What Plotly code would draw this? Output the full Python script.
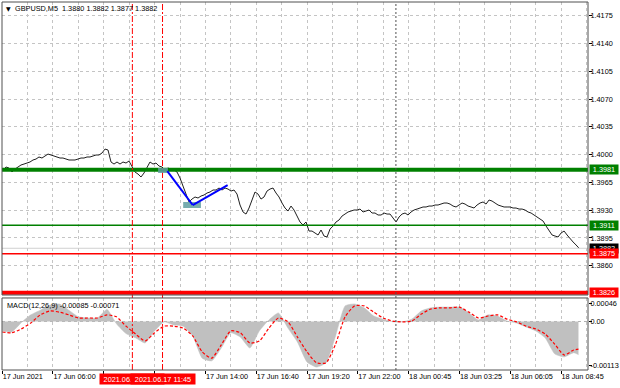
import plotly.graph_objects as go

# ---------------- data ----------------
TITLE_TEXT = "GBPUSD,M5  1.3880 1.3882 1.3877 1.3882"
MACD_TEXT = "MACD(12,26,9) -0.00085 -0.00071"

# time axis: minutes after 17 Jun 03:20 (M5 chart)
PRICE_T0 = 2.5
PRICE_STEP = 9.45
price = [
    1.39793, 1.39844, 1.39831, 1.39781, 1.39818, 1.39844, 1.39869, 1.39881, 1.39894, 1.39907,
    1.39932, 1.39944, 1.39970, 1.39957, 1.39982, 1.40007, 1.39995, 1.39982, 1.39970, 1.39957,
    1.39957, 1.39944, 1.39932, 1.39932, 1.39932, 1.39944, 1.39957, 1.39957, 1.39970, 1.39970,
    1.39982, 1.39995, 1.39995, 1.40020, 1.40070, 1.40058, 1.39907, 1.39881, 1.39907, 1.39881,
    1.39907, 1.39894, 1.39919, 1.39856, 1.39781, 1.39755, 1.39718, 1.39768, 1.39844, 1.39907,
    1.39881, 1.39894, 1.39856, 1.39844, 1.39806, 1.39831, 1.39818, 1.39806, 1.39781, 1.39705,
    1.39604, 1.39491, 1.39403, 1.39440, 1.39466, 1.39453, 1.39478, 1.39491, 1.39516, 1.39529,
    1.39554, 1.39554, 1.39579, 1.39554, 1.39579, 1.39566, 1.39541, 1.39554, 1.39503, 1.39365,
    1.39277, 1.39251, 1.39327, 1.39428, 1.39529, 1.39503, 1.39440, 1.39466, 1.39541, 1.39566,
    1.39579, 1.39516, 1.39466, 1.39390, 1.39327, 1.39289, 1.39352, 1.39302, 1.39226, 1.39151,
    1.39113, 1.39151, 1.39037, 1.39037, 1.39012, 1.38987, 1.39050, 1.38974, 1.38962, 1.39062,
    1.39100, 1.39151, 1.39176, 1.39226, 1.39251, 1.39277, 1.39289, 1.39302, 1.39302, 1.39314,
    1.39277, 1.39289, 1.39302, 1.39264, 1.39264, 1.39239, 1.39239, 1.39264, 1.39251, 1.39251,
    1.39201, 1.39151, 1.39214, 1.39251, 1.39264, 1.39239, 1.39277, 1.39302, 1.39314, 1.39327,
    1.39340, 1.39340, 1.39352, 1.39352, 1.39365, 1.39365, 1.39377, 1.39390, 1.39390, 1.39377,
    1.39352, 1.39340, 1.39365, 1.39390, 1.39377, 1.39352, 1.39340, 1.39327, 1.39365, 1.39390,
    1.39403, 1.39377, 1.39428, 1.39415, 1.39390, 1.39365, 1.39352, 1.39340, 1.39340, 1.39340,
    1.39327, 1.39327, 1.39314, 1.39314, 1.39302, 1.39277, 1.39264, 1.39239, 1.39214, 1.39188,
    1.39163, 1.39100, 1.39050, 1.38987, 1.38974, 1.38962, 1.39012, 1.39037, 1.38987, 1.38936,
    1.38899, 1.38861, 1.38820,
]

MACD_T = list(range(0, 1801, 30)) + [1815]
macd_hist_e5 = [
    -24, -27, -3, 17, 29, 42, 45, 29, 12, 9, 9, 31, -6, -31, -42, -55, -24, -1, -9, -12,
    -37, -94, -101, -68, -29, -40, -68, -24, 4, 22, -17, -53, -104, -117, -106, -37, 40, 45, 35, 14,
    6, -1, -1, 6, 27, 35, 37, 37, 37, 22, 4, 17, 14, 1, -4, -14, -24, -42, -83, -91,
    -80, -85,
]
macd_signal_e5 = [
    -27, -29, -19, -4, 17, 27, 24, 17, 9, 9, 9, 17, 12, -12, -32, -50, -29, -12, -12, -17,
    -37, -78, -94, -60, -24, -29, -55, -50, -17, 9, -1, -40, -78, -106, -106, -58, 12, 40, 40, 24,
    9, 1, -1, 1, 19, 32, 35, 35, 37, 24, 9, 14, 17, 6, -1, -12, -19, -32, -58, -86,
    -73, -71,
]

X_TICKS = [0, 160, 320, 480, 640, 800, 960, 1120, 1280, 1440, 1600, 1760]
X_LABELS = ["17 Jun 2021", "17 Jun 06:00", "", "", "17 Jun 14:00", "17 Jun 16:40",
            "17 Jun 19:20", "17 Jun 22:00", "18 Jun 00:45", "18 Jun 03:25",
            "18 Jun 06:05", "18 Jun 08:45"]
X_MINOR = [80, 240, 400, 560, 720, 880, 1040, 1200, 1360, 1520, 1680, 1840]

PRICE_TICKS = [1.4175, 1.4140, 1.4105, 1.4070, 1.4035, 1.4000, 1.3965, 1.3930, 1.3895, 1.3860]
MACD_TICKS = [0.00046, 0.0, -0.00113]
MACD_TICK_TEXT = ["0.00046", "0.00", "-0.00113"]

LEVELS = [1.3981, 1.3911, 1.3875, 1.3826]
LEVEL_COLORS = ["#008000", "#008000", "#FF0000", "#FF0000"]
LEVEL_WIDTHS = [4, 1.5, 1.5, 4]
BID = 1.3882

VLINE_T = [410, 505]
VLINE_LABELS = ["2021.06.17 10:10", "2021.06.17 11:45"]
DAY_SEP_T = 1240

ARROW_T = [520, 600, 710]
ARROW_P = [1.39793, 1.39365, 1.39617]
BOX_T0 = [491, 570]
BOX_T1 = [522, 626]
BOX_P0 = [1.39768, 1.39327]
BOX_P1 = [1.39831, 1.39403]

# ---------------- figure ----------------
FONT = "Liberation Sans"
FS = 7.3
GRID = "#C4C4C4"
XR = [-0.6, 1845]
PRICE_DOM = [0.2038, 1.0]
MACD_DOM = [0.0, 0.1957]

price_t = [PRICE_T0 + i * PRICE_STEP for i in range(len(price))]
hist = [v * 1e-5 for v in macd_hist_e5]
signal = [v * 1e-5 for v in macd_signal_e5]

fig = go.Figure()
fig.add_trace(go.Scatter(x=price_t, y=price, mode="lines",
                         line=dict(color="#202020", width=1), xaxis="x", yaxis="y",
                         hoverinfo="skip", showlegend=False))
fig.add_trace(go.Scatter(x=MACD_T, y=hist, mode="lines", fill="tozeroy",
                         fillcolor="#C0C0C0",
                         line=dict(color="#C0C0C0", width=0.5, shape="spline", smoothing=0.5),
                         xaxis="x2", yaxis="y2", hoverinfo="skip", showlegend=False))
fig.add_trace(go.Scatter(x=MACD_T, y=signal, mode="lines",
                         line=dict(color="#FF0000", width=1.2, dash="3px,2px", shape="spline", smoothing=0.6),
                         xaxis="x2", yaxis="y2", hoverinfo="skip", showlegend=False))

shapes = []
# zero line in MACD
shapes.append(dict(type="line", xref="x2 domain", x0=0, x1=1, yref="y2", y0=0, y1=0,
                   line=dict(color="#B0B0B0", width=1, dash="3px,3px"), layer="below"))
# bid line
shapes.append(dict(type="line", xref="paper", x0=0, x1=1, yref="y", y0=BID, y1=BID,
                   line=dict(color="#D0D0D0", width=1)))
# horizontal levels
for lv, c, w in zip(LEVELS, LEVEL_COLORS, LEVEL_WIDTHS):
    shapes.append(dict(type="line", xref="paper", x0=0, x1=1, yref="y", y0=lv, y1=lv,
                       line=dict(color=c, width=w)))
# vertical lines
for t in VLINE_T:
    shapes.append(dict(type="line", xref="x", x0=t, x1=t, yref="paper", y0=0, y1=1,
                       line=dict(color="#FF0000", width=1, dash="6px,2px,2px,2px")))
shapes.append(dict(type="line", xref="x", x0=DAY_SEP_T, x1=DAY_SEP_T, yref="paper", y0=0, y1=1,
                   line=dict(color="#505050", width=1, dash="2px,2px")))
# rectangles
for a, b, p0, p1 in zip(BOX_T0, BOX_T1, BOX_P0, BOX_P1):
    shapes.append(dict(type="rect", xref="x", x0=a, x1=b, yref="y", y0=p0, y1=p1,
                       fillcolor="#5F9EA0", opacity=0.85, line=dict(width=0)))
# blue trend lines
for i in range(len(ARROW_T) - 1):
    shapes.append(dict(type="line", xref="x", x0=ARROW_T[i], x1=ARROW_T[i + 1],
                       yref="y", y0=ARROW_P[i], y1=ARROW_P[i + 1],
                       line=dict(color="#0000FF", width=2)))
# panel frames
for dom in (PRICE_DOM, MACD_DOM):
    shapes.append(dict(type="rect", xref="paper", x0=0, x1=1, yref="paper", y0=dom[0], y1=dom[1],
                       line=dict(color="#505050", width=1), fillcolor="rgba(0,0,0,0)"))

annotations = []
annotations.append(dict(text="▼", xref="paper", x=0, xshift=2, xanchor="left",
                        yref="paper", y=1, yshift=-6, yanchor="middle", showarrow=False,
                        font=dict(family="DejaVu Sans", size=6, color="#000000")))
annotations.append(dict(text=TITLE_TEXT, xref="paper", x=0, xshift=11, xanchor="left",
                        yref="paper", y=1, yshift=-6, yanchor="middle", showarrow=False,
                        font=dict(family=FONT, size=FS, color="#000000")))
annotations.append(dict(text=MACD_TEXT, xref="paper", x=0, xshift=3, xanchor="left",
                        yref="paper", y=MACD_DOM[1], yshift=-8, yanchor="middle", showarrow=False,
                        font=dict(family=FONT, size=FS, color="#000000")))
# right side price labels
right_vals = [LEVELS[0], LEVELS[1], BID, LEVELS[2], LEVELS[3]]
right_cols = [LEVEL_COLORS[0], LEVEL_COLORS[1], "#000000", LEVEL_COLORS[2], LEVEL_COLORS[3]]
for v, c in zip(right_vals, right_cols):
    annotations.append(dict(text=f"{v:.4f}", xref="paper", x=1, xshift=1, xanchor="left",
                            yref="y", y=v, yanchor="middle", showarrow=False,
                            bgcolor=c, width=28, height=9, borderpad=0, align="center",
                            font=dict(family=FONT, size=FS, color="#FFFFFF")))
# bottom red time labels
for t, lab in zip(VLINE_T, VLINE_LABELS):
    annotations.append(dict(text=lab, xref="x2", x=t, xanchor="center",
                            yref="paper", y=0, yshift=-8.5, yanchor="middle", showarrow=False,
                            bgcolor="#FF0000", width=64, height=10, borderpad=0, align="center",
                            font=dict(family=FONT, size=FS, color="#FFFFFF")))

common_x = dict(range=XR, tickvals=X_TICKS, showgrid=True, gridcolor=GRID, griddash="3px,3px",
                gridwidth=1, zeroline=False, showline=False, automargin=False, tickangle=0,
                minor=dict(tickvals=X_MINOR, showgrid=True, gridcolor=GRID, griddash="3px,3px",
                           ticks=""))

fig.update_layout(
    width=620, height=388,
    margin=dict(l=2, r=32, t=2, b=18, autoexpand=False),
    paper_bgcolor="#FFFFFF", plot_bgcolor="#FFFFFF",
    font=dict(family=FONT, size=FS, color="#000000"),
    showlegend=False,
    xaxis=dict(**common_x, anchor="y", domain=[0, 1], showticklabels=False, ticks=""),
    xaxis2=dict(**common_x, anchor="y2", domain=[0, 1], matches="x", ticktext=X_LABELS,
                showticklabels=True, ticks="outside", ticklen=3, tickcolor="#000000",
                ticklabelposition="outside right", ticklabelstandoff=-1,
                tickfont=dict(family=FONT, size=FS, color="#000000")),
    yaxis=dict(domain=PRICE_DOM, range=[1.38231, 1.41923], side="right", anchor="x",
               tickvals=PRICE_TICKS, ticktext=[f"{v:.4f}" for v in PRICE_TICKS],
               showgrid=True, gridcolor=GRID, griddash="3px,3px", zeroline=False,
               ticks="outside", ticklen=3, tickcolor="#000000", showline=False,
               automargin=False, ticklabelstandoff=-3,
               tickfont=dict(family=FONT, size=FS, color="#000000")),
    yaxis2=dict(domain=MACD_DOM, range=[-0.001244, 0.000603], side="right", anchor="x2",
                tickvals=MACD_TICKS, ticktext=MACD_TICK_TEXT, showgrid=False, zeroline=False,
                ticks="outside", ticklen=3, tickcolor="#000000", showline=False,
                automargin=False, ticklabelstandoff=-3,
                tickfont=dict(family=FONT, size=FS, color="#000000")),
    shapes=shapes,
    annotations=annotations,
)

fig.write_html("out.html", config={"displayModeBar": False},
               post_script="document.body.style.margin='0';")
